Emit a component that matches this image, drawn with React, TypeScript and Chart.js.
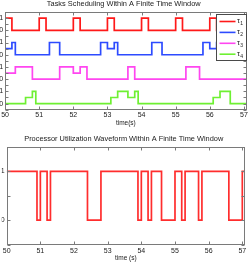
import React, { useEffect, useRef } from 'react';
import { Chart, registerables } from 'chart.js';

Chart.register(...registerables);

const FONT = '"Liberation Sans", Arial, Helvetica, sans-serif';
const FRAME_COLOR = '#7a7a7a';
const TEXT_COLOR = '#1a1a1a';
const TICK_LEN = 3;

// ---- shared axis data ----
const X_MIN = 50;
const X_MAX = 57.08;
const X_TICKS = [50, 51, 52, 53, 54, 55, 56, 57];

// ---- top chart: task states (0 idle, 0.5 waiting, 1 running) ----
const TASK_LABELS = ['τ1', 'τ2', 'τ3', 'τ4'];
const TASK_COLORS = ['rgb(255,25,25)', 'rgb(45,75,255)', 'rgb(255,70,240)', 'rgb(110,240,50)'];
const TASK_OFFSETS = [6, 4, 2, 0];

const TASK1_TIMES = [50, 50.2, 51, 51.2, 52, 52.2, 53, 53.2, 54, 54.2, 55, 55.2, 56, 56.2, 57, 57.1];
const TASK1_STATES = [1, 0, 1, 0, 1, 0, 1, 0, 1, 0, 1, 0, 1, 0, 1, 1];

const TASK2_TIMES = [50, 50.2, 50.3, 51.3, 51.6, 52.8, 53, 53.2, 53.3, 54.3, 54.6, 55.8, 56, 56.2, 56.3, 57.1];
const TASK2_STATES = [0.5, 1, 0, 1, 0, 1, 0.5, 1, 0, 1, 0, 1, 0.5, 1, 0, 0];

const TASK3_TIMES = [50, 50.3, 50.8, 51.6, 52, 52.2, 52.4, 53.6, 53.8, 55.3, 55.7, 57.1];
const TASK3_STATES = [0.5, 1, 0, 1, 0.5, 1, 0, 1, 0, 1, 0, 0];

const TASK4_TIMES = [50, 50.6, 50.8, 50.9, 53.1, 53.3, 53.6, 53.8, 53.9, 56.1, 56.3, 56.6, 57.1];
const TASK4_STATES = [0, 0.5, 1, 0, 0.5, 1, 0.5, 1, 0, 0.5, 1, 0, 0];

const TOP_Y_TICKS = [-0.5, 0, 0.5, 1, 1.5, 2, 2.5, 3, 3.5, 4, 4.5, 5, 5.5, 6, 6.5, 7, 7.5];

// ---- bottom chart: processor utilization ----
const UTIL_TIMES = [50, 50.9, 51, 51.2, 51.3, 52.4, 52.8, 53.9, 54, 54.2, 54.3, 54.6, 55, 55.2, 55.3, 55.7, 55.8, 56.6, 57, 57.1];
const UTIL_STATES = [1, 0, 1, 0, 1, 0, 1, 0, 1, 0, 1, 0, 1, 0, 1, 0, 1, 0, 1, 1];
const UTIL_COLOR = 'rgb(255,45,45)';
const BOTTOM_Y_TICKS = [-0.5, 0, 0.5, 1, 1.5];

const TOP_TITLE = 'Tasks Scheduling Within A Finite Time Window';
const BOTTOM_TITLE = 'Processor Utilization Waveform Within A Finite Time Window';

function toPoints(times: number[], states: number[], offset: number) {
  return times.map((t, i) => ({ x: t, y: states[i] + offset }));
}

function makeFramePlugin(yTicks: number[]) {
  return {
    id: 'frameTicks',
    afterDatasetsDraw(chart: any) {
      const { ctx, chartArea } = chart;
      const xs = chart.scales.x;
      const ys = chart.scales.y;
      const L = Math.round(chartArea.left) + 0.5;
      const R = Math.round(chartArea.right) - 0.5;
      const T = Math.round(chartArea.top) + 0.5;
      const B = Math.round(chartArea.bottom) - 0.5;
      ctx.save();
      ctx.strokeStyle = FRAME_COLOR;
      ctx.lineWidth = 1;
      ctx.beginPath();
      X_TICKS.forEach((v) => {
        const p = Math.round(xs.getPixelForValue(v)) + 0.5;
        ctx.moveTo(p, B);
        ctx.lineTo(p, B - TICK_LEN);
        ctx.moveTo(p, T);
        ctx.lineTo(p, T + TICK_LEN);
      });
      yTicks.forEach((v) => {
        const p = Math.round(ys.getPixelForValue(v)) + 0.5;
        ctx.moveTo(L, p);
        ctx.lineTo(L + TICK_LEN, p);
        ctx.moveTo(R, p);
        ctx.lineTo(R - TICK_LEN, p);
      });
      ctx.stroke();
      ctx.strokeRect(L, T, R - L, B - T);
      ctx.restore();
    },
  };
}

const taskLegendPlugin = {
  id: 'taskLegend',
  afterDraw(chart: any) {
    const { ctx, chartArea } = chart;
    const ds = chart.data.datasets;
    const boxW = 30;
    const boxH = 46;
    const right = Math.round(chartArea.right) - 0.5;
    const left = right - boxW;
    const top = Math.round(chartArea.top) + 2.5;
    ctx.save();
    ctx.fillStyle = '#ffffff';
    ctx.fillRect(left, top, boxW, boxH);
    ctx.strokeStyle = '#4a4a4a';
    ctx.lineWidth = 1;
    ctx.strokeRect(left, top, boxW, boxH);
    ds.forEach((d: any, i: number) => {
      const y = top + 7 + i * 10.9;
      ctx.strokeStyle = d.borderColor;
      ctx.lineWidth = 1.6;
      ctx.beginPath();
      ctx.moveTo(left + 3, y);
      ctx.lineTo(left + 19, y);
      ctx.stroke();
      const label: string = d.label;
      ctx.fillStyle = TEXT_COLOR;
      ctx.textBaseline = 'middle';
      ctx.textAlign = 'left';
      ctx.font = `7.5px ${FONT}`;
      ctx.fillText(label.charAt(0), left + 20.5, y - 0.5);
      const w = ctx.measureText(label.charAt(0)).width;
      ctx.font = `5px ${FONT}`;
      ctx.fillText(label.slice(1), left + 20.5 + w + 0.3, y + 2);
    });
    ctx.restore();
  },
};

function baseX(titleText: string, labelPad: number, titlePadBottom: number, height: number) {
  return {
    type: 'linear' as const,
    min: X_MIN,
    max: X_MAX,
    grid: { display: false, drawTicks: false },
    border: { display: false },
    afterBuildTicks: (s: any) => {
      s.ticks = X_TICKS.map((v) => ({ value: v }));
    },
    ticks: {
      font: { family: FONT, size: 7 },
      color: TEXT_COLOR,
      padding: labelPad,
      maxRotation: 0,
      autoSkip: false,
      callback: (v: any) => String(v),
    },
    title: {
      display: true,
      text: titleText,
      font: { family: FONT, size: 6.5 },
      color: TEXT_COLOR,
      padding: { top: 0, bottom: titlePadBottom },
    },
    afterFit: (s: any) => {
      s.height = height;
    },
  };
}

function baseY(min: number, max: number, ticks: number[], labelFn: (v: number) => string) {
  return {
    type: 'linear' as const,
    min,
    max,
    grid: { display: false, drawTicks: false },
    border: { display: false },
    afterBuildTicks: (s: any) => {
      s.ticks = ticks.map((v) => ({ value: v }));
    },
    ticks: {
      font: { family: FONT, size: 7 },
      color: TEXT_COLOR,
      padding: 2,
      autoSkip: false,
      callback: (v: any) => labelFn(Number(v)),
    },
    afterFit: (s: any) => {
      s.width = 5;
    },
  };
}

export default function App() {
  const topRef = useRef<HTMLCanvasElement>(null);
  const botRef = useRef<HTMLCanvasElement>(null);

  useEffect(() => {
    const taskTimes = [TASK1_TIMES, TASK2_TIMES, TASK3_TIMES, TASK4_TIMES];
    const taskStates = [TASK1_STATES, TASK2_STATES, TASK3_STATES, TASK4_STATES];

    const top = new Chart(topRef.current as HTMLCanvasElement, {
      type: 'line',
      data: {
        datasets: TASK_LABELS.map((label, i) => ({
          label,
          data: toPoints(taskTimes[i], taskStates[i], TASK_OFFSETS[i]),
          borderColor: TASK_COLORS[i],
          backgroundColor: TASK_COLORS[i],
          borderWidth: 1.7,
          pointRadius: 0,
          stepped: true,
          fill: false,
        })),
      },
      options: {
        animation: false,
        responsive: false,
        devicePixelRatio: 1,
        parsing: false,
        layout: { padding: { left: 0, right: 1.5, top: 0, bottom: 0 } },
        plugins: {
          legend: { display: false },
          tooltip: { enabled: false },
          title: {
            display: true,
            text: TOP_TITLE,
            color: TEXT_COLOR,
            font: { family: FONT, size: 7.4, weight: 'normal' },
            padding: { top: 0, bottom: 3.1 },
          },
        },
        scales: {
          x: baseX('time(s)', 1.2, 4.0, 21.3),
          y: baseY(-0.5, 7.5, TOP_Y_TICKS, (v) =>
            Number.isInteger(v) ? (Math.abs(v) % 2 === 1 ? '1' : '0') : ''
          ),
        },
      } as any,
      plugins: [makeFramePlugin(TOP_Y_TICKS), taskLegendPlugin],
    });

    const bottom = new Chart(botRef.current as HTMLCanvasElement, {
      type: 'line',
      data: {
        datasets: [
          {
            label: 'utilization',
            data: toPoints(UTIL_TIMES, UTIL_STATES, 0),
            borderColor: UTIL_COLOR,
            backgroundColor: UTIL_COLOR,
            borderWidth: 1.7,
            pointRadius: 0,
            stepped: true,
            fill: false,
          },
        ],
      },
      options: {
        animation: false,
        responsive: false,
        devicePixelRatio: 1,
        parsing: false,
        layout: { padding: { left: 0, right: 1.5, top: 0, bottom: 0 } },
        plugins: {
          legend: { display: false },
          tooltip: { enabled: false },
          title: {
            display: true,
            text: BOTTOM_TITLE,
            color: TEXT_COLOR,
            font: { family: FONT, size: 7.4, weight: 'normal' },
            padding: { top: 3.5, bottom: 3.6 },
          },
        },
        scales: {
          x: baseX('time (s)', 2.8, 0, 17.5),
          y: baseY(-0.5, 1.5, BOTTOM_Y_TICKS, (v) => (v === 0 ? '0' : v === 1 ? '1' : '')),
        },
      } as any,
      plugins: [makeFramePlugin(BOTTOM_Y_TICKS)],
    });

    return () => {
      top.destroy();
      bottom.destroy();
    };
  }, []);

  return (
    <div style={{ position: 'fixed', left: 0, top: 0, width: 249, height: 262, background: '#fff' }}>
      <canvas ref={topRef} width={249} height={131} style={{ position: 'absolute', left: 0, top: 0 }} />
      <canvas ref={botRef} width={249} height={131} style={{ position: 'absolute', left: 0, top: 131 }} />
    </div>
  );
}
